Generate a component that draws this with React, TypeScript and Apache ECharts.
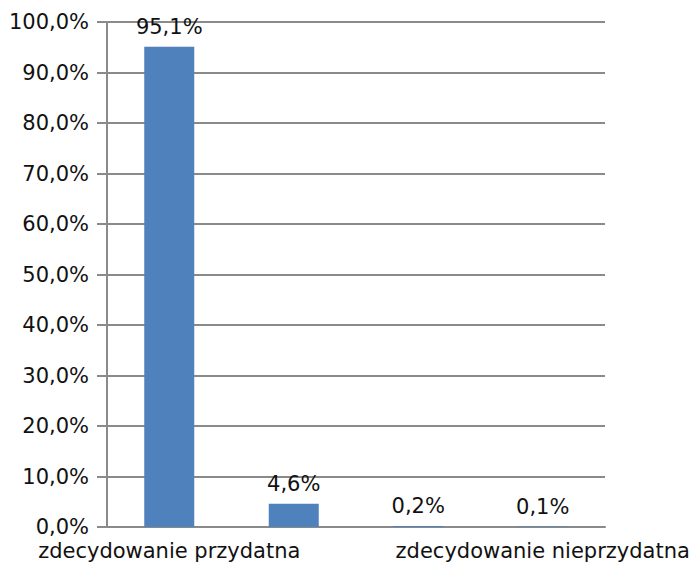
import React, { useEffect, useRef } from "react";
import * as echarts from "echarts";

const categories = [
  "zdecydowanie przydatna",
  "raczej przydatna",
  "raczej nieprzydatna",
  "zdecydowanie nieprzydatna",
];
const values = [95.1, 4.6, 0.2, 0.1];
const shownLabelIndexes = [0, 3];

const fmt = (v: number) => v.toFixed(1).replace(".", ",") + "%";

export default function App() {
  const ref = useRef<HTMLDivElement>(null);
  useEffect(() => {
    document.body.style.margin = "0";
    const chart = echarts.init(ref.current!, null, { renderer: "svg" });
    const font = "DejaVu Sans";
    chart.setOption({
      animation: false,
      backgroundColor: "#ffffff",
      grid: { left: 107, right: 91, top: 22, bottom: 37, containLabel: false },
      xAxis: {
        type: "category",
        data: categories,
        axisLine: { lineStyle: { color: "#8a8a8a", width: 2 } },
        axisTick: { show: false },
        axisLabel: {
          interval: (i: number) => shownLabelIndexes.includes(i),
          color: "#111111",
          fontFamily: font,
          fontSize: 21,
          margin: 13,
        },
      },
      yAxis: {
        type: "value",
        min: 0,
        max: 100,
        interval: 10,
        axisLine: { show: true, lineStyle: { color: "#8a8a8a", width: 2 } },
        axisTick: { show: true, length: 10, lineStyle: { color: "#8a8a8a", width: 2 } },
        splitLine: { lineStyle: { color: "#8a8a8a", width: 2 } },
        axisLabel: {
          formatter: (v: number) => fmt(v),
          color: "#111111",
          fontFamily: font,
          fontSize: 21,
          margin: 18,
        },
      },
      series: [
        {
          type: "bar",
          data: values,
          barWidth: 50,
          itemStyle: { color: "#4f81bd" },
          label: {
            show: true,
            position: "top",
            distance: 9,
            formatter: (p: any) => fmt(p.value),
            color: "#111111",
            fontFamily: font,
            fontSize: 21,
          },
        },
      ],
    });
    return () => chart.dispose();
  }, []);
  return <div ref={ref} style={{ width: 696, height: 564 }} />;
}
